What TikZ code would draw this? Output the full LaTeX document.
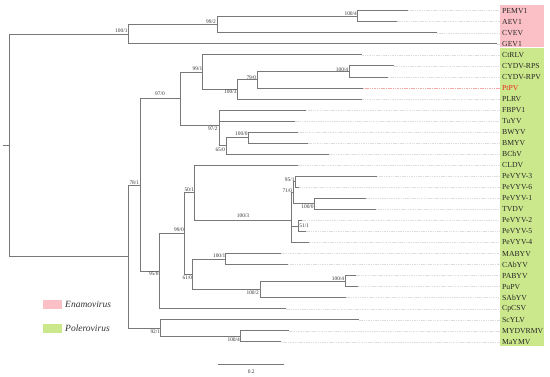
\documentclass[tikz,border=0pt]{standalone}
\usepackage{fontspec}
\setmainfont{Liberation Serif}
\definecolor{pinkbox}{RGB}{250,192,198}
\definecolor{greenbox}{RGB}{204,232,140}
\definecolor{brc}{RGB}{120,120,120}
\definecolor{extc}{RGB}{222,222,222}
\definecolor{ptred}{RGB}{232,40,30}
\definecolor{ptext}{RGB}{245,170,165}
\tikzset{
 br/.style={draw=brc, line width=0.9pt},
 ext/.style={draw=extc, line width=0.5pt, dash pattern=on 1.5pt off 0.8pt},
 leaf/.style={anchor=west, inner xsep=2pt, inner ysep=0pt, font=\fontsize{7.7}{8}\selectfont, text=black!85},
 bs/.style={inner sep=0pt, font=\fontsize{5.4}{6}\selectfont, text=black!80},
 legtext/.style={anchor=west, inner sep=0pt, font=\fontsize{9.5}{10}\selectfont\itshape, text=black!80},
}
\begin{document}
\begin{tikzpicture}[x=1pt,y=-1pt]
\useasboundingbox (0,0) rectangle (550,377);
% clade boxes
\fill[pinkbox] (500,5) rectangle (544.3,46.7);
\fill[greenbox] (500,48.3) rectangle (544.3,345.7);
% leaves: end of branch, label, extension
\foreach \n/\lab/\y/\xe in {
 L0/PEMV1/10.7/407.7, L1/AEV1/21.7/397, L2/CVEV/32.8/436.7, L3/GEV1/43.8/497,
 L4/CtRLV/54.9/362.3, L5/CYDV-RPS/65.9/394, L6/CYDV-RPV/77.0/387.7,
 L8/PLRV/99.0/362.3, L9/FBPV1/110.1/305.7, L10/TuYV/121.1/295,
 L11/BWYV/132.1/297.7, L12/BMYV/143.2/308, L13/BChV/154.2/329,
 L14/CLDV/165.3/298, L15/PeVYV-3/176.3/376.7, L16/PeVYV-6/187.3/299.3,
 L17/PeVYV-1/198.4/366, L18/TVDV/209.4/375.7, L19/PeVYV-2/220.5/302,
 L20/PeVYV-5/231.5/306, L21/PeVYV-4/242.5/309.3, L22/MABYV/253.6/281,
 L23/CAbYV/264.6/287.7, L24/PABYV/275.7/356, L25/PuPV/286.7/358.3,
 L26/SAbYV/297.7/346, L27/CpCSV/308.8/286, L28/ScYLV/319.8/359,
 L29/MYDVRMV/330.9/289, L30/MaYMV/341.9/280.7}
{
 \coordinate (e\n) at (\xe,\y);
 \node[leaf] (t\n) at (500,\y) {\lab};
 \draw[ext] (e\n) -- (t\n.west);
}
\coordinate (eL7) at (362.7,88.0);
\node[leaf, text=ptred] (tL7) at (500,88.0) {PtPV};
\draw[ext, draw=ptext] (eL7) -- (tL7.west);
% internal nodes
\coordinate (stub) at (3,145.4);
\coordinate (root) at (9.3,145.4);
\coordinate (E) at (128,34.15);
\coordinate (E1) at (217,24.5);
\coordinate (E2) at (357.7,16.2);
\coordinate (P) at (128,256.6);
\coordinate (A) at (140,185.05);
\coordinate (B) at (180.7,98.9);
\coordinate (B1) at (202.7,72.1);
\coordinate (B11) at (237.3,89.35);
\coordinate (B111) at (257.7,79.7);
\coordinate (B1111) at (349,71.45);
\coordinate (B2) at (219,125.7);
\coordinate (B21) at (226,145.9);
\coordinate (B211) at (248.3,137.65);
\coordinate (C) at (159,271.2);
\coordinate (C1) at (184.3,233.6);
\coordinate (C11) at (194.3,192.9);
\coordinate (C111) at (291.7,220.45);
\coordinate (C1111) at (293.5,192.85);
\coordinate (C11111) at (295.7,181.8);
\coordinate (C11112) at (314.3,203.9);
\coordinate (C1112) at (298.3,226);
\coordinate (C12) at (192.7,274.3);
\coordinate (C121) at (225.7,259.1);
\coordinate (C122) at (260,289.45);
\coordinate (C1221) at (345.7,281.2);
\coordinate (S) at (160.7,328.1);
\coordinate (S1) at (240.7,336.4);
% branches
\draw[br] (stub) -- (root);
\foreach \p/\c in {root/E, root/P, E/E1, E/eL3, E1/E2, E1/eL2, E2/eL0, E2/eL1,
 P/A, P/S, A/B, A/C, B/B1, B/B2, B1/eL4, B1/B11, B11/B111, B11/eL8,
 B111/B1111, B111/eL7, B1111/eL5, B1111/eL6, B2/eL9, B2/eL10, B2/B21,
 B21/B211, B21/eL13, B211/eL11, B211/eL12,
 C/C1, C/eL27, C1/C11, C1/C12, C11/eL14, C11/C111,
 C111/C1111, C111/C1112, C111/eL21, C1111/C11111, C1111/C11112,
 C11111/eL15, C11111/eL16, C11112/eL17, C11112/eL18, C1112/eL19, C1112/eL20,
 C12/C121, C12/C122, C121/eL22, C121/eL23, C122/C1221, C122/eL26,
 C1221/eL24, C1221/eL25, S/eL28, S/S1, S1/eL29, S1/eL30}
{ \draw[br] (\p) |- (\c); }
% support values
\node[bs] (b1) at (121.3,31) {100/1};
\node[bs] (b2) at (211,21.3) {99/2};
\node[bs] (b3) at (350.7,13.7) {100/4};
\node[bs] (b4) at (197.5,68.3) {99/1};
\node[bs] (b5) at (251.3,77.3) {79/0};
\node[bs] (b6) at (230.3,91.7) {100/3};
\node[bs] (b7) at (342,69.3) {100/4};
\node[bs] (b8) at (160,94) {97/0};
\node[bs] (b9) at (212.8,128.3) {97/2};
\node[bs] (b10) at (241.3,134) {100/0};
\node[bs] (b11) at (220.3,149.3) {65/0};
\node[bs] (b12) at (189.3,190) {50/1};
\node[bs] (b13) at (243,215.7) {100/3};
\node[bs] (b14) at (289.7,179.3) {95/1};
\node[bs] (b15) at (287.3,190.7) {71/0};
\node[bs] (b16) at (307.5,206.7) {100/0};
\node[bs] (b17) at (304.2,226) {51/1};
\node[bs] (b18) at (134.3,182.3) {78/1};
\node[bs] (b19) at (179,230) {99/0};
\node[bs] (b20) at (153.8,273.3) {95/0};
\node[bs] (b21) at (187.3,277.7) {61/0};
\node[bs] (b22) at (219.2,255.7) {100/1};
\node[bs] (b23) at (252.7,292.3) {100/2};
\node[bs] (b24) at (338,278.3) {100/4};
\node[bs] (b25) at (155.3,331.7) {92/1};
\node[bs] (b26) at (233.7,339.3) {100/4};
% legend
\fill[pinkbox] (43.3,300) rectangle (61.7,309.3);
\node[legtext] (lg1) at (65,304.5) {Enamovirus};
\fill[greenbox] (43.3,324.5) rectangle (61.7,333);
\node[legtext] (lg2) at (65,328.5) {Polerovirus};
% scale bar
\coordinate (sb1) at (218.3,364.3);
\coordinate (sb2) at (284.3,364.3);
\draw[br, line width=0.7pt] (sb1) -- (sb2);
\node[bs] (sbl) at (251.3,371.3) {0.2};
\end{tikzpicture}
\end{document}
